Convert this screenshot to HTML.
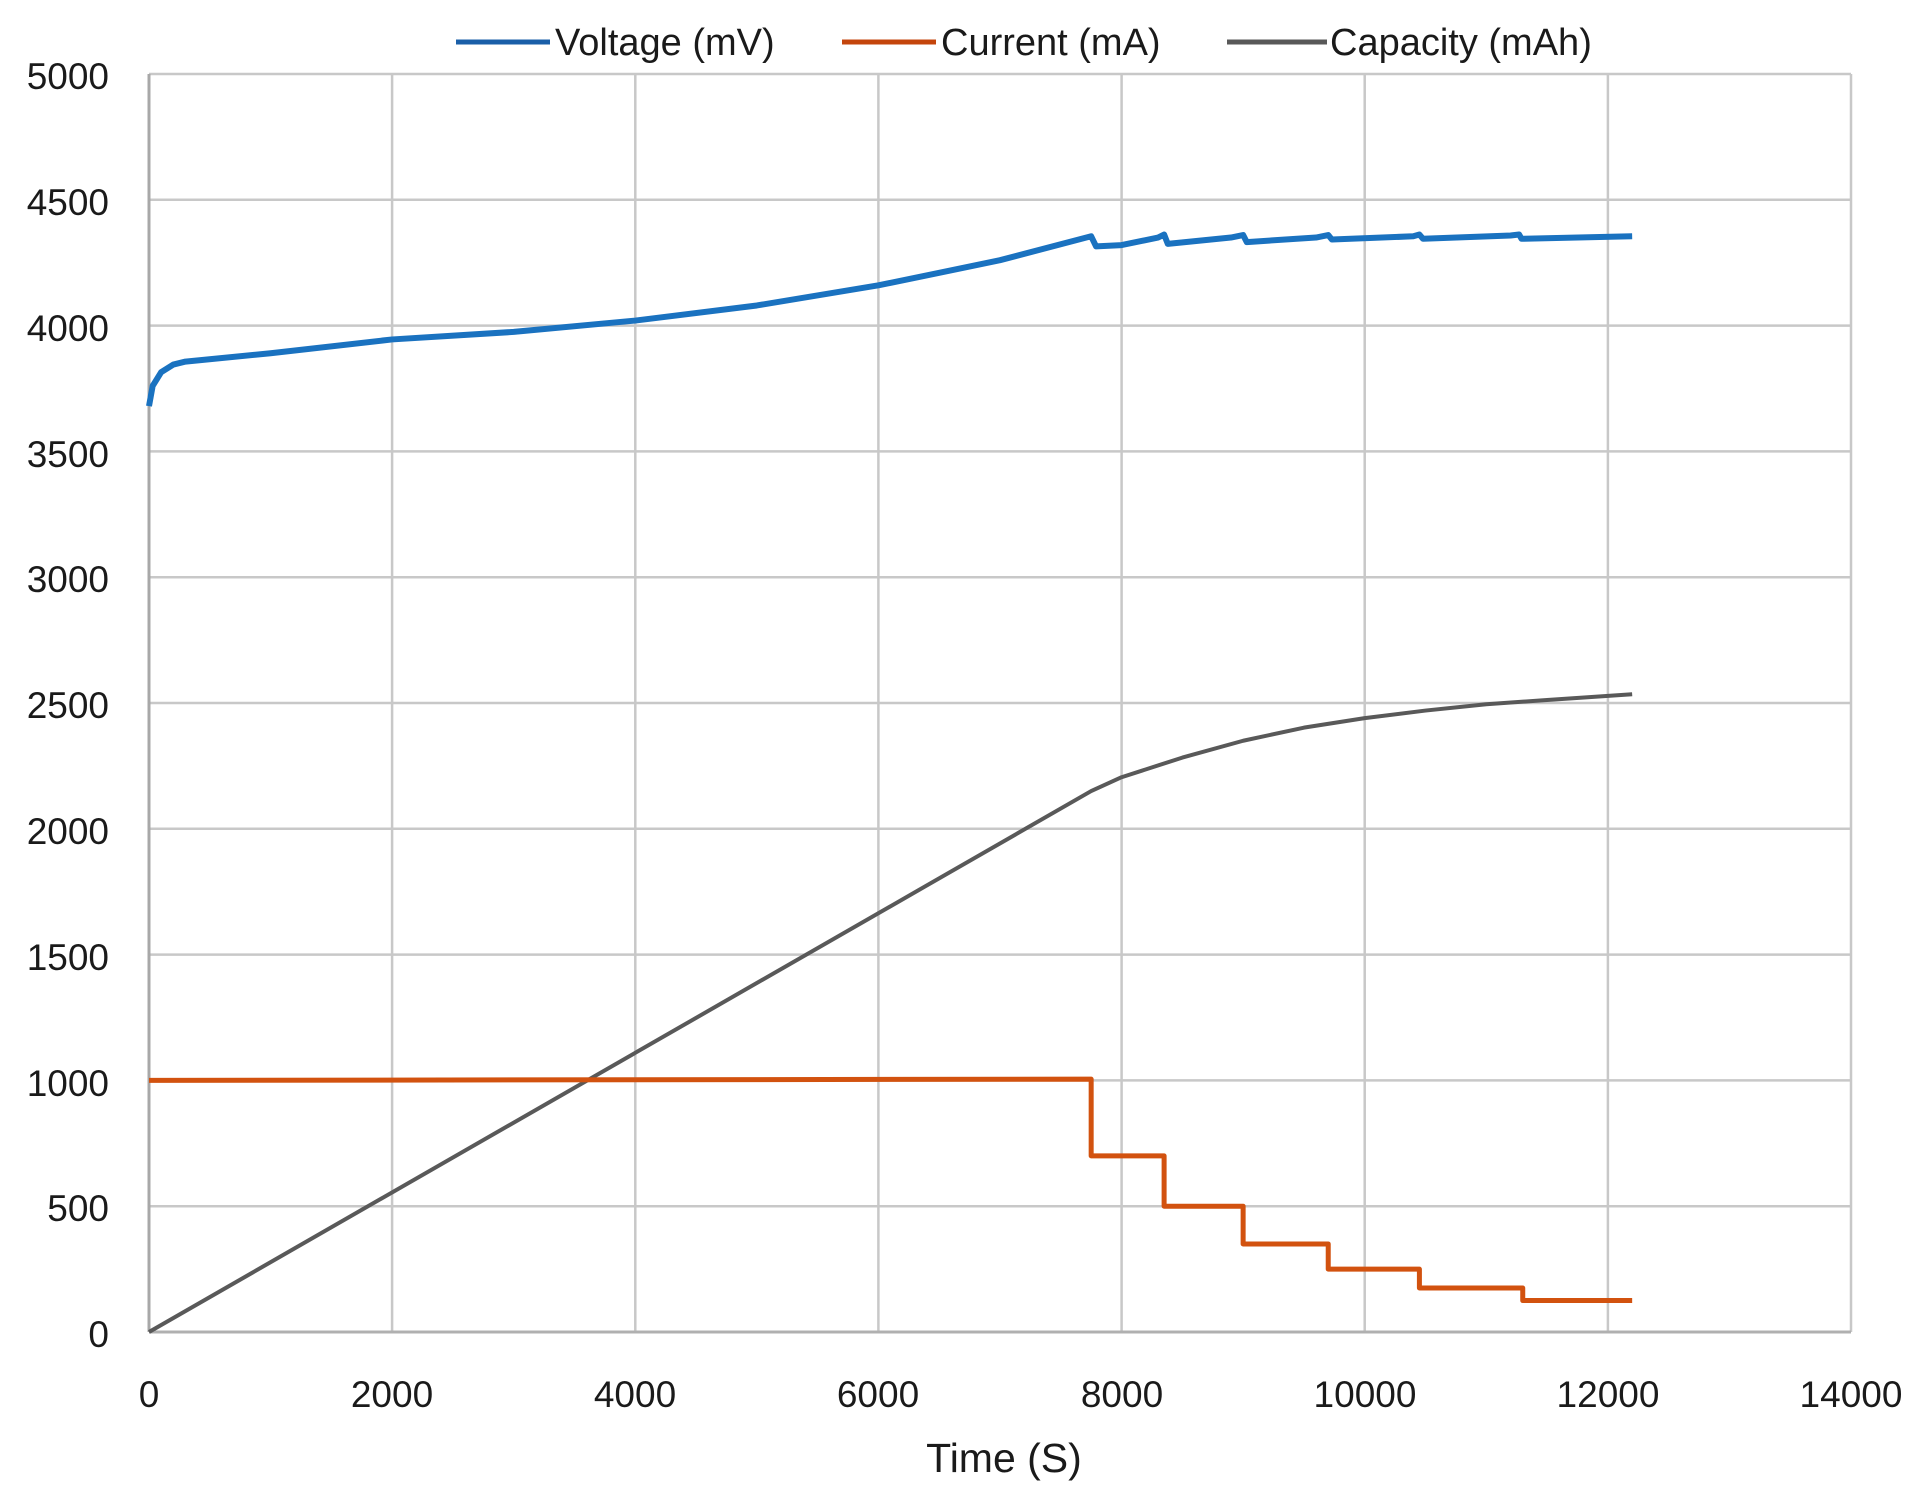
<!DOCTYPE html>
<html><head><meta charset="utf-8"><style>
html,body{margin:0;padding:0;background:#fff;width:1920px;height:1501px;overflow:hidden}
text{font-family:"Liberation Sans",sans-serif;fill:#1a1a1a}
</style></head><body>
<svg width="1920" height="1501" xmlns="http://www.w3.org/2000/svg">
<g stroke="#c8c8c8" stroke-width="2.5">
<line x1="149" y1="74" x2="1851" y2="74"/>
<line x1="149" y1="199.8" x2="1851" y2="199.8"/>
<line x1="149" y1="325.6" x2="1851" y2="325.6"/>
<line x1="149" y1="451.4" x2="1851" y2="451.4"/>
<line x1="149" y1="577.2" x2="1851" y2="577.2"/>
<line x1="149" y1="703" x2="1851" y2="703"/>
<line x1="149" y1="828.8" x2="1851" y2="828.8"/>
<line x1="149" y1="954.6" x2="1851" y2="954.6"/>
<line x1="149" y1="1080.4" x2="1851" y2="1080.4"/>
<line x1="149" y1="1206.2" x2="1851" y2="1206.2"/>
<line x1="392.1" y1="74" x2="392.1" y2="1332"/>
<line x1="635.3" y1="74" x2="635.3" y2="1332"/>
<line x1="878.4" y1="74" x2="878.4" y2="1332"/>
<line x1="1121.6" y1="74" x2="1121.6" y2="1332"/>
<line x1="1364.7" y1="74" x2="1364.7" y2="1332"/>
<line x1="1607.9" y1="74" x2="1607.9" y2="1332"/>
<line x1="1851" y1="74" x2="1851" y2="1332"/>
</g>
<line x1="149" y1="1332" x2="1851" y2="1332" stroke="#b0b0b0" stroke-width="3"/>
<line x1="149" y1="74" x2="149" y2="1332" stroke="#a8a8a8" stroke-width="3"/>
<g transform="translate(149,1332) scale(0.12157,-0.2516)" fill="none" stroke-linejoin="round">
<polyline vector-effect="non-scaling-stroke" stroke="#595959" stroke-width="4" points="0,0 7750,2150 8000,2205 8500,2283 9000,2350 9500,2402 10000,2440 10500,2470 11000,2495 11500,2512 12200,2535"/>
<polyline vector-effect="non-scaling-stroke" stroke="#d2520f" stroke-width="5" points="0,1000 7750,1005 7750,700 8350,700 8350,500 9000,500 9000,350 9700,350 9700,250 10450,250 10450,175 11300,175 11300,125 12200,125"/>
<polyline vector-effect="non-scaling-stroke" stroke="#1a72c0" stroke-width="6" points="0,3680 30,3760 100,3815 200,3845 300,3857 1000,3890 2000,3945 3000,3975 4000,4020 5000,4080 6000,4160 6500,4210 7000,4260 7750,4355 7790,4315 8000,4320 8300,4350 8350,4362 8380,4325 8900,4350 9000,4360 9030,4332 9600,4350 9700,4360 9730,4342 10400,4355 10450,4362 10480,4345 11200,4358 11270,4362 11290,4345 12200,4355"/>
</g>
<g font-size="37" text-anchor="end">
<text x="109" y="89">5000</text><text x="109" y="215">4500</text><text x="109" y="341">4000</text>
<text x="109" y="467">3500</text><text x="109" y="592">3000</text><text x="109" y="718">2500</text>
<text x="109" y="844">2000</text><text x="109" y="970">1500</text><text x="109" y="1096">1000</text>
<text x="109" y="1221">500</text><text x="109" y="1347">0</text>
</g>
<g font-size="37" text-anchor="middle">
<text x="149" y="1407">0</text><text x="392" y="1407">2000</text><text x="635" y="1407">4000</text>
<text x="878" y="1407">6000</text><text x="1122" y="1407">8000</text><text x="1365" y="1407">10000</text>
<text x="1608" y="1407">12000</text><text x="1851" y="1407">14000</text>
</g>
<text x="1004" y="1472" font-size="41" text-anchor="middle">Time (S)</text>
<line x1="456" y1="42" x2="550" y2="42" stroke="#1a5fa8" stroke-width="5"/>
<line x1="842" y1="42" x2="936" y2="42" stroke="#c4450c" stroke-width="5"/>
<line x1="1227" y1="42" x2="1327" y2="42" stroke="#595959" stroke-width="5"/>
<g font-size="38">
<text x="555" y="55">Voltage (mV)</text>
<text x="941" y="55">Current (mA)</text>
<text x="1330" y="55">Capacity (mAh)</text>
</g>
</svg>
</body></html>
